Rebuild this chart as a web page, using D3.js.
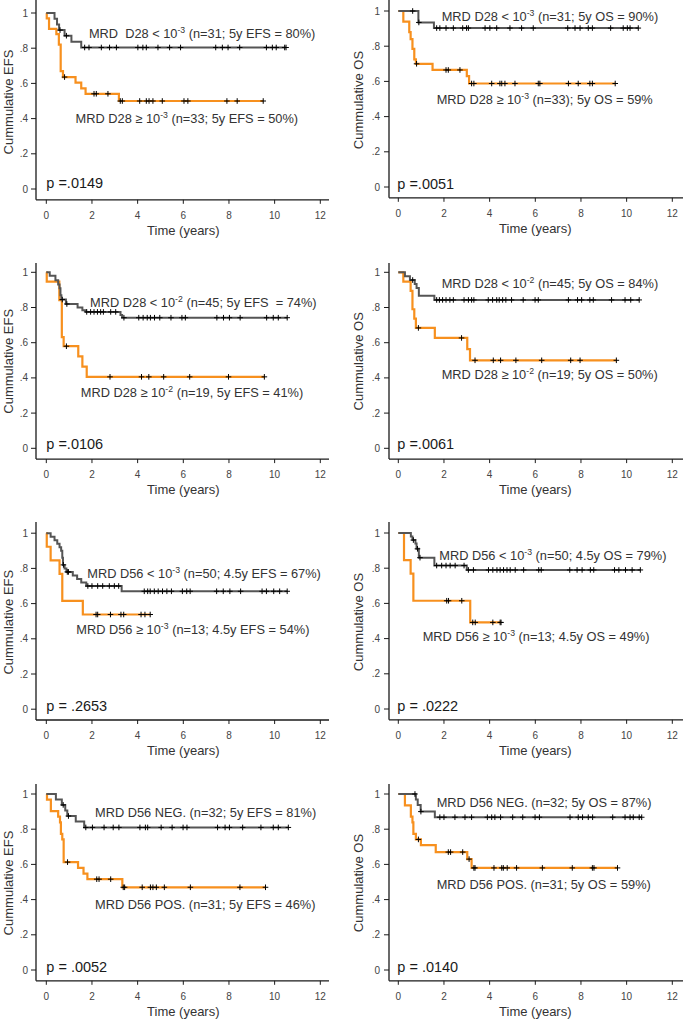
<!DOCTYPE html>
<html><head><meta charset="utf-8">
<script src="https://cdn.jsdelivr.net/npm/d3@7"></script>
<style>
body{margin:0;background:#fff;}
svg text{font-family: "Liberation Sans", Arial, sans-serif; white-space: pre;}
</style></head><body>
<svg id="c" width="683" height="1020"></svg>
<script>
// ---------------- DATA ----------------
const xTicks = [0, 2, 4, 6, 8, 10, 12];
const yTicks = [0, 0.2, 0.4, 0.6, 0.8, 1];
const yTickLabels = ["0", ".2", ".4", ".6", ".8", "1"];
const xTitle = "Time (years)";
const yTitles = ["Cummulative EFS", "Cummulative OS", "Cummulative EFS", "Cummulative OS",
                 "Cummulative EFS", "Cummulative OS", "Cummulative EFS", "Cummulative OS"];
const pValues = ["p =.0149", "p =.0051", "p =.0106", "p =.0061", "p = .2653", "p = .0222", "p = .0052", "p = .0140"];
const lowLabels = [
  ["MRD  D28 < 10", "-3", " (n=31; 5y EFS = 80%)"],
  ["MRD D28 < 10", "-3", " (n=31; 5y OS = 90%)"],
  ["MRD D28 < 10", "-2", " (n=45; 5y EFS  = 74%)"],
  ["MRD D28 < 10", "-2", " (n=45; 5y OS = 84%)"],
  ["MRD D56 < 10", "-3", " (n=50; 4.5y EFS = 67%)"],
  ["MRD D56 < 10", "-3", " (n=50; 4.5y OS = 79%)"],
  ["MRD D56 NEG. (n=32; 5y EFS = 81%)"],
  ["MRD D56 NEG. (n=32; 5y OS = 87%)"]
];
const highLabels = [
  ["MRD D28 \u2265 10", "-3", " (n=33; 5y EFS = 50%)"],
  ["MRD D28 \u2265 10", "-3", " (n=33); 5y OS = 59%"],
  ["MRD D28 \u2265 10", "-2", " (n=19, 5y EFS = 41%)"],
  ["MRD D28 \u2265 10", "-2", " (n=19; 5y OS = 50%)"],
  ["MRD D56 \u2265 10", "-3", " (n=13; 4.5y EFS = 54%)"],
  ["MRD D56 \u2265 10", "-3", " (n=13; 4.5y OS = 49%)"],
  ["MRD D56 POS. (n=31; 5y EFS = 46%)"],
  ["MRD D56 POS. (n=31; 5y OS = 59%)"]
];

// Panel 1: EFS, MRD D28 10^-3
const efsD28aLowSteps = [[0,1],[0.36,0.968],[0.47,0.935],[0.56,0.903],[0.8,0.871],[1.1,0.837],[1.53,0.804]];
const efsD28aLowCens = [0.6,0.88,1.68,1.87,2.41,2.77,3.07,4.01,4.23,4.38,4.89,5.40,5.88,7.42,7.71,7.96,8.47,9.64,9.9,10.07,10.44,10.5];
const efsD28aHighSteps = [[0,1],[0.02,0.97],[0.12,0.91],[0.44,0.88],[0.55,0.82],[0.63,0.67],[0.73,0.636],[1.28,0.604],[1.53,0.572],[1.72,0.541],[3.18,0.50]];
const efsD28aHighCens = [0.8,2.09,2.19,2.7,3.24,3.33,4.09,4.38,4.5,4.67,5.08,6.03,6.2,7.91,8.36,9.5];
// Panel 2: OS, MRD D28 10^-3
const osD28aLowSteps = [[0,1],[0.88,0.935],[1.56,0.903]];
const osD28aLowCens = [0.63,0.9,1.68,1.82,2.09,2.41,2.82,2.99,3.07,3.8,4.01,4.31,4.89,5.4,5.91,7.42,7.74,7.96,8.32,8.5,9.3,9.85,10.03,10.15,10.51];
const osD28aHighSteps = [[0,1],[0.22,0.94],[0.48,0.88],[0.54,0.84],[0.62,0.785],[0.7,0.725],[0.77,0.70],[1.5,0.665],[3.0,0.63],[3.1,0.588]];
const osD28aHighCens = [0.8,2.09,2.19,2.7,3.21,3.31,4.09,4.45,4.53,4.67,5.11,6.13,6.2,7.45,7.88,8.39,8.5,9.5];
// Panel 3: EFS, MRD D28 10^-2
const efsD28bLowSteps = [[0,1],[0.15,0.98],[0.4,0.955],[0.52,0.93],[0.58,0.91],[0.62,0.87],[0.66,0.845],[0.86,0.82],[1.37,0.80],[1.58,0.785],[1.73,0.775],[3.25,0.757],[3.32,0.742]];
const efsD28bLowCens = [0.7,0.9,1.77,1.94,2.09,2.24,2.38,2.5,2.82,3.04,3.4,4.05,4.24,4.42,4.56,4.74,4.97,5.46,5.94,6.09,7.47,7.76,8.02,8.49,9.65,9.94,10.16,10.55];
const efsD28bHighSteps = [[0,1],[0.02,0.947],[0.57,0.842],[0.68,0.632],[0.76,0.58],[1.4,0.522],[1.58,0.464],[1.77,0.406]];
const efsD28bHighCens = [0.88,2.79,4.17,4.49,5.14,6.28,7.98,9.55];
// Panel 4: OS, MRD D28 10^-2
const osD28bLowSteps = [[0,1],[0.29,0.978],[0.51,0.956],[0.72,0.933],[0.8,0.911],[0.9,0.867],[1.58,0.843]];
const osD28bLowCens = [0.63,1.68,1.8,1.94,2.09,2.26,2.41,2.88,3.07,3.21,3.31,3.94,4.13,4.31,4.42,4.57,4.71,4.96,5.47,5.99,6.13,7.45,7.85,8.03,8.39,8.54,9.34,9.93,10.18,10.55];
const osD28bHighSteps = [[0,1],[0.22,0.947],[0.54,0.895],[0.62,0.79],[0.7,0.737],[0.77,0.684],[1.6,0.627],[3.02,0.564],[3.14,0.50]];
const osD28bHighCens = [0.88,2.77,3.36,4.16,4.48,5.15,6.28,7.55,7.96,9.55];
// Panel 5: EFS, MRD D56 10^-3
const efsD56aLowSteps = [[0,1],[0.19,0.98],[0.36,0.96],[0.48,0.94],[0.58,0.92],[0.65,0.90],[0.7,0.86],[0.73,0.82],[0.8,0.80],[0.88,0.78],[1.16,0.76],[1.35,0.74],[1.53,0.72],[1.75,0.70],[3.3,0.67]];
const efsD56aLowCens = [0.75,0.92,0.97,1.82,2.0,2.25,2.47,2.76,2.98,3.17,4.29,4.44,4.55,4.73,4.9,5.09,5.28,5.48,5.96,6.15,6.3,7.46,7.75,8.04,8.51,9.45,9.64,9.96,10.22,10.55];
const efsD56aHighSteps = [[0,1],[0.02,0.923],[0.19,0.846],[0.58,0.769],[0.7,0.615],[1.6,0.538]];
const efsD56aHighCens = [2.18,2.25,2.81,3.27,3.39,4.15,4.32,4.55];
// Panel 6: OS, MRD D56 10^-3
const osD56aLowSteps = [[0,1],[0.55,0.98],[0.62,0.96],[0.75,0.94],[0.8,0.91],[0.9,0.86],[1.58,0.815],[3.0,0.79]];
const osD56aLowCens = [0.66,0.84,0.95,1.68,1.9,2.09,2.27,2.49,2.88,3.07,3.29,3.95,4.14,4.32,4.46,4.61,4.76,4.9,5.12,5.49,6.15,6.26,7.51,7.83,8.05,8.41,8.56,9.47,9.66,9.95,10.24,10.6];
const osD56aHighSteps = [[0,1],[0.25,0.846],[0.54,0.769],[0.66,0.615],[3.15,0.492]];
const osD56aHighCens = [2.12,2.2,2.78,3.26,3.37,4.14,4.46,4.5];
// Panel 7: EFS, MRD D56 NEG / POS
const efsD56bLowSteps = [[0,1],[0.42,0.969],[0.68,0.938],[0.83,0.906],[0.92,0.875],[1.29,0.844],[1.66,0.81]];
const efsD56bLowCens = [0.74,0.97,1.73,2.02,2.53,2.93,3.18,4.1,4.34,4.44,5.03,5.51,5.99,6.16,7.5,7.83,8.02,8.6,9.4,9.94,10.16,10.6];
const efsD56bHighSteps = [[0,1],[0.03,0.968],[0.2,0.903],[0.52,0.871],[0.6,0.839],[0.64,0.774],[0.7,0.742],[0.76,0.613],[1.39,0.58],[1.63,0.548],[1.8,0.516],[3.33,0.47]];
const efsD56bHighCens = [0.93,2.21,2.31,2.82,3.37,3.43,4.2,4.56,4.67,4.82,5.17,6.31,8.48,9.6];
// Panel 8: OS, MRD D56 NEG / POS
const osD56bLowSteps = [[0,1],[0.77,0.969],[0.85,0.938],[0.98,0.9],[1.6,0.868]];
const osD56bLowCens = [0.73,0.99,1.82,2.0,2.48,2.92,3.21,3.9,4.09,4.23,4.48,5.01,5.45,5.99,6.18,7.52,7.88,8.07,8.32,8.51,9.39,9.93,10.15,10.29,10.55,10.66];
const osD56bHighSteps = [[0,1],[0.29,0.935],[0.55,0.871],[0.62,0.839],[0.66,0.774],[0.77,0.742],[0.99,0.71],[1.64,0.67],[3.02,0.63],[3.21,0.58]];
const osD56bHighCens = [0.88,2.19,2.29,2.82,3.1,3.31,3.36,4.19,4.53,4.6,4.77,5.18,6.31,7.62,8.5,8.57,9.6];

// ---------------- LAYOUT / STYLE ----------------
const COL_GRAY = "#555555", COL_ORANGE = "#f7901e";
const series = [
  [efsD28aLowSteps, efsD28aLowCens, efsD28aHighSteps, efsD28aHighCens],
  [osD28aLowSteps, osD28aLowCens, osD28aHighSteps, osD28aHighCens],
  [efsD28bLowSteps, efsD28bLowCens, efsD28bHighSteps, efsD28bHighCens],
  [osD28bLowSteps, osD28bLowCens, osD28bHighSteps, osD28bHighCens],
  [efsD56aLowSteps, efsD56aLowCens, efsD56aHighSteps, efsD56aHighCens],
  [osD56aLowSteps, osD56aLowCens, osD56aHighSteps, osD56aHighCens],
  [efsD56bLowSteps, efsD56bLowCens, efsD56bHighSteps, efsD56bHighCens],
  [osD56bLowSteps, osD56bLowCens, osD56bHighSteps, osD56bHighCens]
];
const cols = [
  {axisX: 36, x0: 46.3, axisEnd: 329, titleX: 8.5, tickLabelX: 28},
  {axisX: 389, x0: 398.3, axisEnd: 683, titleX: 358.5, tickLabelX: 380}
];
const rowTop = [0, 263, 522, 784];
const rowY1 = [[13, 11], [272.3, 272.3], [533.2, 533], [794, 794]];
// label offsets (dx, dy-center) relative to (x at 0 years, y at survival 1)
const lowOff = [[42.6,20.7],[43.4,5.7],[43.8,30],[43.4,11],[41,40],[41,22.7],[48.7,18.3],[38.4,8.7]];
const highOff = [[29.3,105.7],[38.4,88],[34.5,120.4],[43.4,102],[30,95.7],[24.4,103],[48.7,110],[38.4,90]];
const pOff = [[0,169.5],[-1,172.3],[0,171],[-1,171.7],[0,172.4],[-1,172.7],[0,172.7],[-1,172.7]];

const PW = 274, PH = 176;
const svg = d3.select("#c");

function survAt(steps, t) {
  let s = 1;
  for (const [tt, v] of steps) { if (tt <= t) s = v; }
  return s;
}

function drawLabel(g, x, yc, parts, fs) {
  const t = g.append("text").attr("x", x).attr("y", yc + fs * 0.36)
    .attr("font-size", fs + "px").attr("fill", "#333");
  t.append("tspan").text(parts[0]);
  if (parts.length > 1) {
    t.append("tspan").attr("dy", -5).attr("font-size", (fs * 0.68) + "px").text(parts[1]);
    t.append("tspan").attr("dy", 5).text(parts[2]);
  }
  return t;
}

for (let i = 0; i < 8; i++) {
  const c = i % 2, r = Math.floor(i / 2);
  const col = cols[c];
  const y1 = rowY1[r][c];
  const x = d3.scaleLinear().domain([0, 12]).range([col.x0, col.x0 + PW]);
  const y = d3.scaleLinear().domain([0, 1]).range([y1 + PH, y1]);
  const axisY = y1 + 186.8;
  const g = svg.append("g");

  // axes lines
  g.append("line").attr("x1", col.axisX).attr("x2", col.axisX).attr("y1", rowTop[r]).attr("y2", axisY)
    .attr("stroke", "#1a1a1a").attr("stroke-width", 1.3);
  g.append("line").attr("x1", col.axisX).attr("x2", col.axisEnd).attr("y1", axisY).attr("y2", axisY)
    .attr("stroke", "#1a1a1a").attr("stroke-width", 1.3);
  // y ticks
  yTicks.forEach((v, k) => {
    g.append("line").attr("x1", col.axisX - 5).attr("x2", col.axisX).attr("y1", y(v)).attr("y2", y(v))
      .attr("stroke", "#1a1a1a").attr("stroke-width", 1);
    g.append("text").attr("x", col.tickLabelX).attr("y", y(v)).attr("dy", "0.35em")
      .attr("text-anchor", "end").attr("font-size", "10px").attr("fill", "#444").text(yTickLabels[k]);
  });
  // x ticks
  xTicks.forEach(v => {
    g.append("line").attr("x1", x(v)).attr("x2", x(v)).attr("y1", axisY).attr("y2", axisY + 4)
      .attr("stroke", "#1a1a1a").attr("stroke-width", 1);
    g.append("text").attr("x", x(v)).attr("y", axisY + 15.5).attr("dy", "0.35em")
      .attr("text-anchor", "middle").attr("font-size", "10px").attr("fill", "#444").text(v);
  });
  // titles
  g.append("text").attr("x", (x(0) + x(12)) / 2).attr("y", axisY + 30.5).attr("dy", "0.35em")
    .attr("text-anchor", "middle").attr("font-size", "13px").attr("fill", "#333").text(xTitle);
  g.append("text").attr("transform", `translate(${col.titleX},${y1 + 89}) rotate(-90)`)
    .attr("dy", "0.35em").attr("text-anchor", "middle").attr("font-size", "13px").attr("fill", "#333")
    .text(yTitles[i]);

  // curves
  const [lowS, lowC, highS, highC] = series[i];
  const line = d3.line().x(d => x(d[0])).y(d => y(d[1])).curve(d3.curveStepAfter);
  const drawCurve = (steps, cens, color, w) => {
    const end = d3.max(cens);
    const pts = steps.concat([[end, steps[steps.length - 1][1]]]);
    g.append("path").attr("d", line(pts)).attr("fill", "none").attr("stroke", color)
      .attr("stroke-width", w).attr("stroke-linejoin", "miter");
  };
  const drawCens = (steps, cens) => {
    cens.forEach(t => {
      const cx = x(t), cy = y(survAt(steps, t));
      g.append("path").attr("d", `M${cx - 2.8},${cy}H${cx + 2.8}M${cx},${cy - 2.8}V${cy + 2.8}`)
        .attr("stroke", "#000").attr("stroke-width", 1);
    });
  };
  drawCurve(highS, highC, COL_ORANGE, 2.2);
  drawCurve(lowS, lowC, COL_GRAY, 2);
  drawCens(highS, highC);
  drawCens(lowS, lowC);

  // annotations
  drawLabel(g, x(0) + lowOff[i][0], y1 + lowOff[i][1], lowLabels[i], 12.8);
  drawLabel(g, x(0) + highOff[i][0], y1 + highOff[i][1], highLabels[i], 12.8);
  g.append("text").attr("x", x(0) + pOff[i][0]).attr("y", y1 + pOff[i][1]).attr("dy", "0.36em")
    .attr("font-size", "14.5px").attr("fill", "#1a1a1a").text(pValues[i]);
}
</script>
</body></html>
